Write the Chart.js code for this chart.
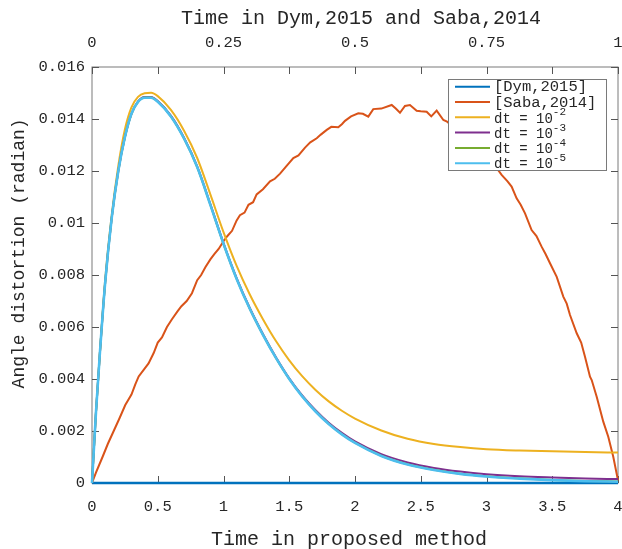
<!DOCTYPE html>
<html>
<head>
<meta charset="utf-8">
<script src="https://cdn.jsdelivr.net/npm/chart.js@4.4.1/dist/chart.umd.min.js"></script>
<style>
  html, body { margin: 0; padding: 0; background: #fff; }
  #wrap { width: 622px; height: 549px; }
</style>
</head>
<body>
<div id="wrap"><canvas id="angleChart" width="622" height="549"></canvas></div>
<script>
// time grid of the simulated curves (proposed method)
const simT = [0, 0.03, 0.06, 0.1, 0.15, 0.2, 0.25, 0.3, 0.35, 0.4, 0.45, 0.5, 0.6, 0.7, 0.8, 0.9,
  1.0, 1.1, 1.2, 1.3, 1.4, 1.5, 1.6, 1.7, 1.8, 1.9, 2.0, 2.2, 2.4, 2.6, 2.8, 3.0, 3.25, 3.5, 3.75, 4.0];

const dt2Vals = [0, 0.0027, 0.0050, 0.0078, 0.0103, 0.0122, 0.0136, 0.01445, 0.01485, 0.01499, 0.01501, 0.01488,
  0.01435, 0.01355, 0.01250, 0.01110, 0.00965, 0.00835, 0.00725, 0.00630, 0.00545, 0.00472, 0.00410, 0.00358,
  0.00314, 0.00278, 0.00248, 0.00202, 0.00170, 0.00150, 0.00138, 0.00130, 0.00125, 0.00122, 0.00119, 0.00117];
const dt3Vals = [0, 0.0027, 0.0050, 0.0077, 0.0102, 0.0120, 0.0133, 0.0142, 0.01468, 0.01485, 0.01485, 0.01469,
  0.01413, 0.01328, 0.01218, 0.01073, 0.00923, 0.00788, 0.00673, 0.00573, 0.00483, 0.00403, 0.00336, 0.0028,
  0.00232, 0.00193, 0.0016, 0.00111, 0.00079, 0.00058, 0.00044, 0.00034, 0.00026, 0.00021, 0.00017, 0.00015];
const dt4Vals = [0, 0.0027, 0.0050, 0.0077, 0.0102, 0.0120, 0.0133, 0.0142, 0.01466, 0.01483, 0.01483, 0.01467,
  0.0141, 0.01325, 0.01215, 0.0107, 0.0092, 0.00785, 0.0067, 0.0057, 0.0048, 0.0040, 0.00333, 0.00276,
  0.00228, 0.00188, 0.00155, 0.00105, 0.00072, 0.00051, 0.00036, 0.00026, 0.00018, 0.00012, 0.00008, 0.00006];
const dt5Vals = [0, 0.0027, 0.0050, 0.0077, 0.0102, 0.0120, 0.0133, 0.0142, 0.01466, 0.01482, 0.01482, 0.01466,
  0.0141, 0.01325, 0.01215, 0.0107, 0.0092, 0.00785, 0.0067, 0.0057, 0.0048, 0.0040, 0.00332, 0.00275,
  0.00227, 0.00187, 0.00154, 0.00104, 0.00071, 0.0005, 0.00035, 0.00025, 0.00017, 0.00011, 0.00007, 0.00005];

// [Dym,2015] stays on zero
const dymT = [0, 4];
const dymVals = [0, 0];

// [Saba,2014] (noisy)
const sabaT = [0, 0.03, 0.08, 0.12, 0.165, 0.21, 0.253, 0.3, 0.33, 0.355, 0.4, 0.43, 0.469, 0.5, 0.532, 0.57,
  0.608, 0.65, 0.68, 0.72, 0.76, 0.8, 0.83, 0.862, 0.9, 0.93, 0.963, 1.0, 1.03, 1.065, 1.1, 1.125,
  1.16, 1.19, 1.225, 1.252, 1.3, 1.354, 1.39, 1.43, 1.48, 1.531, 1.57, 1.62, 1.66, 1.709, 1.74, 1.785,
  1.82, 1.873, 1.9, 1.924, 1.97, 2.025, 2.06, 2.101, 2.139, 2.2, 2.279, 2.31, 2.342, 2.38, 2.418, 2.469,
  2.5, 2.545, 2.58, 2.621, 2.672, 2.7, 2.75, 2.8, 2.85, 2.9, 2.95, 3.0, 3.05, 3.115, 3.16, 3.191,
  3.229, 3.26, 3.293, 3.343, 3.38, 3.419, 3.45, 3.483, 3.534, 3.584, 3.61, 3.635, 3.686, 3.72, 3.749, 3.787,
  3.8, 3.838, 3.888, 3.926, 3.964, 4.0];
const sabaVals = [0, 0.0004, 0.0010, 0.0015, 0.0020, 0.0025, 0.0030, 0.0034, 0.0038, 0.0041, 0.0044, 0.0046, 0.0050, 0.0054, 0.0056, 0.0060,
  0.0063, 0.0066, 0.0068, 0.0070, 0.0073, 0.0078, 0.0080, 0.0083, 0.0086, 0.0088, 0.0090, 0.0093, 0.0095, 0.0097, 0.0101, 0.0103,
  0.0104, 0.0107, 0.0108, 0.0111, 0.0113, 0.0116, 0.0117, 0.0119, 0.0122, 0.0125, 0.0126, 0.0129, 0.0131, 0.01326, 0.0134, 0.01358,
  0.0137, 0.01368, 0.0138, 0.01393, 0.0141, 0.01422, 0.0142, 0.01409, 0.01438, 0.0144, 0.01454, 0.0144, 0.01424, 0.0145, 0.01454, 0.01432,
  0.0143, 0.01428, 0.0141, 0.01432, 0.01396, 0.0139, 0.0137, 0.0136, 0.0134, 0.0132, 0.0129, 0.0126, 0.0123, 0.01185, 0.0116, 0.0114,
  0.01095, 0.0107, 0.01037, 0.00973, 0.0095, 0.00909, 0.0088, 0.00845, 0.00793, 0.00717, 0.0069, 0.00646, 0.00576, 0.0054, 0.00486, 0.00409,
  0.00396, 0.00332, 0.00236, 0.00178, 0.00101, 0.0001];

const seriesLabels = ['[Dym,2015]', '[Saba,2014]', 'dt = 10^-2', 'dt = 10^-3', 'dt = 10^-4', 'dt = 10^-5'];
const seriesColors = ['#0072BD', '#D95319', '#EDB120', '#7E2F8E', '#77AC30', '#4DBEEE'];

const xTickLabels = ['0', '0.5', '1', '1.5', '2', '2.5', '3', '3.5', '4'];
const topTickLabels = ['0', '0.25', '0.5', '0.75', '1'];
const yTickLabels = ['0', '0.002', '0.004', '0.006', '0.008', '0.01', '0.012', '0.014', '0.016'];

const FONT = 'Liberation Mono';
const INK = '#262626';

function toPoints(xs, ys) {
  return xs.map((x, i) => ({ x: x, y: ys[i] }));
}

const seriesData = [
  toPoints(dymT, dymVals),
  toPoints(sabaT, sabaVals),
  toPoints(simT, dt2Vals),
  toPoints(simT, dt3Vals),
  toPoints(simT, dt4Vals),
  toPoints(simT, dt5Vals)
];
const widths = [2.5, 2, 2, 2, 2, 2.6];

const datasets = seriesData.map((pts, i) => ({
  label: seriesLabels[i],
  data: pts,
  borderColor: seriesColors[i],
  backgroundColor: seriesColors[i],
  borderWidth: widths[i],
  pointRadius: 0,
  fill: false,
  clip: false,
  order: seriesData.length - 1 - i,
  tension: 0,
  cubicInterpolationMode: i >= 2 ? 'monotone' : 'default'
}));

// box round the plot with inward ticks, like matlab
const axesBox = {
  id: 'axesBox',
  beforeDatasetsDraw(chart) {
    const { ctx, chartArea: a, scales } = chart;
    const x = scales.x, y = scales.y;
    const len = 7;
    ctx.save();
    ctx.strokeStyle = '#7a7a7a';
    ctx.lineWidth = 1;
    ctx.strokeRect(a.left, a.top, a.right - a.left, a.bottom - a.top);
    ctx.strokeStyle = '#555';
    ctx.beginPath();
    x.ticks.forEach(t => {
      const px = Math.round(x.getPixelForValue(t.value)) + 0.5;
      ctx.moveTo(px, a.bottom); ctx.lineTo(px, a.bottom - len);
      ctx.moveTo(px, a.top); ctx.lineTo(px, a.top + len);
    });
    y.ticks.forEach(t => {
      const py = Math.round(y.getPixelForValue(t.value)) + 0.5;
      ctx.moveTo(a.left, py); ctx.lineTo(a.left + len, py);
      ctx.moveTo(a.right, py); ctx.lineTo(a.right - len, py);
    });
    ctx.stroke();
    ctx.restore();
  }
};

// legend inside the plot, top right, with superscripts
const insideLegend = {
  id: 'insideLegend',
  afterDatasetsDraw(chart) {
    const ctx = chart.ctx;
    const bx = 448.5, by = 79.5, bw = 158, bh = 91;
    ctx.save();
    ctx.fillStyle = '#fff';
    ctx.fillRect(bx, by, bw, bh);
    ctx.strokeStyle = '#7a7a7a';
    ctx.lineWidth = 1;
    ctx.strokeRect(bx, by, bw, bh);
    chart.data.datasets.forEach((ds, i) => {
      const cy = 86.7 + i * 15.3;
      ctx.strokeStyle = ds.borderColor;
      ctx.lineWidth = 2;
      ctx.beginPath();
      ctx.moveTo(455, cy); ctx.lineTo(490, cy);
      ctx.stroke();
      ctx.fillStyle = INK;
      ctx.textBaseline = 'middle';
      ctx.textAlign = 'left';
      const parts = ds.label.split('^');
      if (parts.length === 1) {
        ctx.font = '15.5px "' + FONT + '"';
        ctx.fillText(parts[0], 494, cy + 0.5);
      } else {
        ctx.font = '14px "' + FONT + '"';
        ctx.fillText(parts[0], 494, cy + 1.5);
        const w = ctx.measureText(parts[0]).width;
        ctx.font = '11px "' + FONT + '"';
        ctx.fillText(parts[1], 494 + w, cy - 5);
      }
    });
    ctx.restore();
  }
};

const tickFont = { family: FONT, size: 15.5 };
const titleFont = { family: FONT, size: 20, lineHeight: 0.8 };
const noGrid = { display: false, drawTicks: false, tickLength: 0 };

new Chart(document.getElementById('angleChart').getContext('2d'), {
  type: 'line',
  data: { datasets: datasets },
  plugins: [axesBox, insideLegend],
  options: {
    responsive: false,
    animation: false,
    layout: { padding: { left: 0, right: 4, top: 0, bottom: 0 } },
    plugins: { legend: { display: false }, tooltip: { enabled: false } },
    scales: {
      x: {
        type: 'linear', position: 'bottom', min: 0, max: 4,
        grid: noGrid, border: { display: false },
        ticks: { stepSize: 0.5, color: INK, font: tickFont, padding: 15, maxRotation: 0,
          callback: (v, i) => xTickLabels[i] },
        title: { display: true, text: 'Time in proposed method ', color: INK, font: titleFont,
          padding: { top: 0, bottom: 1 } },
        afterFit: s => { s.height = 66; s.paddingLeft = 0; s.paddingRight = 0; }
      },
      x2: {
        type: 'linear', position: 'top', min: 0, max: 1,
        grid: noGrid, border: { display: false },
        ticks: { stepSize: 0.25, color: INK, font: tickFont, padding: 15, maxRotation: 0,
          callback: (v, i) => topTickLabels[i] },
        title: { display: true, text: ' Time in Dym,2015 and Saba,2014', color: INK, font: titleFont,
          padding: { top: 10.5, bottom: 0 } },
        afterFit: s => { s.height = 67; s.paddingLeft = 0; s.paddingRight = 0; }
      },
      y: {
        type: 'linear', position: 'left', min: 0, max: 0.016,
        grid: noGrid, border: { display: false },
        ticks: { stepSize: 0.002, color: INK, font: tickFont, padding: 7,
          callback: (v, i) => yTickLabels[i] },
        title: { display: true, text: '    Angle distortion (radian)', color: INK,
          font: { family: FONT, size: 18, lineHeight: 0.8 }, padding: { top: 11.8, bottom: 0 } },
        afterFit: s => { s.width = 92; s.paddingTop = 0; s.paddingBottom = 0; }
      }
    }
  }
});
</script>
</body>
</html>
